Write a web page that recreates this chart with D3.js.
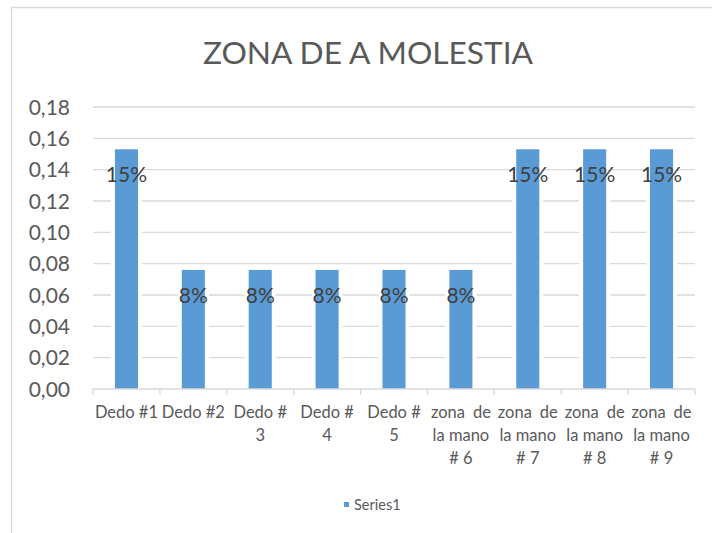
<!DOCTYPE html>
<html>
<head>
<meta charset="utf-8">
<script src="https://cdn.jsdelivr.net/npm/d3@7"></script>
<style>
  body { margin: 0; background: #fff; }
  svg { display: block; font-family: Lato, "Open Sans", sans-serif; }
  .grid line { stroke: #d9d9d9; stroke-width: 1.3; }
  .label { fill: #404040; }
  .tick-label { fill: #595959; }
</style>
</head>
<body>
<div id="chart"></div>
<script>
// *********** zona de molestia *************
var categories = [
  ["Dedo #1"], ["Dedo #2"], ["Dedo #", "3"], ["Dedo #", "4"], ["Dedo #", "5"],
  ["zona de", "la mano", "# 6"], ["zona de", "la mano", "# 7"],
  ["zona de", "la mano", "# 8"], ["zona de", "la mano", "# 9"]
];
var values = [0.153, 0.076, 0.076, 0.076, 0.076, 0.076, 0.153, 0.153, 0.153];
var yTicks = [0, 0.02, 0.04, 0.06, 0.08, 0.10, 0.12, 0.14, 0.16, 0.18];
var seriesName = "Series1";
var title = "ZONA DE A MOLESTIA";

var width = 712, height = 533;
var plotLeft = 93, plotRight = 695, plotTop = 107, plotBottom = 389;

var svg = d3.select("#chart").append("svg").attr("width", width).attr("height", height);

// outer chart border (cropped)
svg.append("path").attr("d", "M11.5," + height + "V7.5H" + width)
  .attr("fill", "none").attr("stroke", "#d9d9d9").attr("stroke-width", 1.3);

svg.append("text").attr("x", 368).attr("y", 64).attr("text-anchor", "middle")
  .attr("font-size", 31.7).attr("fill", "#595959").text(title);

var x = d3.scaleBand().domain(d3.range(categories.length)).range([plotLeft, plotRight]).padding(0);
var y = d3.scaleLinear().domain([0, 0.18]).range([plotBottom, plotTop]);
var barW = x.bandwidth() * 0.345;
var fmtY = function (d) { return d3.format(".2f")(d).replace(".", ","); };

// gridlines
svg.append("g").attr("class", "grid").selectAll("line").data(yTicks.slice(1)).enter()
  .append("line").attr("x1", plotLeft).attr("x2", plotRight)
  .attr("y1", function (d) { return y(d); }).attr("y2", function (d) { return y(d); });

// y labels
svg.append("g").selectAll("text").data(yTicks).enter().append("text")
  .attr("class", "tick-label").attr("x", 70).attr("y", function (d) { return y(d) + 7.5; })
  .attr("text-anchor", "end").attr("font-size", 21).text(fmtY);

// bars with white halo over gridlines
var bars = svg.append("g").selectAll("g").data(values).enter().append("g");
bars.append("rect").attr("fill", "#fff")
  .attr("x", function (d, i) { return x(i) + x.bandwidth() / 2 - barW / 2 - 4; })
  .attr("width", barW + 8)
  .attr("y", function (d) { return y(d); })
  .attr("height", function (d) { return plotBottom - y(d); });
bars.append("rect").attr("fill", "#5b9bd5")
  .attr("x", function (d, i) { return x(i) + x.bandwidth() / 2 - barW / 2; })
  .attr("width", barW)
  .attr("y", function (d) { return y(d); })
  .attr("height", function (d) { return plotBottom - y(d); });

// x axis
var xAxis = svg.append("g").attr("transform", "translate(0," + plotBottom + ")");
xAxis.append("line").attr("x1", plotLeft).attr("x2", plotRight).attr("stroke", "#d9d9d9").attr("stroke-width", 1.3);
xAxis.selectAll(".tk").data(d3.range(categories.length + 1)).enter().append("line")
  .attr("x1", function (i) { return plotLeft + i * x.step(); })
  .attr("x2", function (i) { return plotLeft + i * x.step(); })
  .attr("y1", 0).attr("y2", 6).attr("stroke", "#d9d9d9").attr("stroke-width", 1.3);

// data labels
svg.append("g").selectAll("text").data(values).enter().append("text")
  .attr("class", "label").attr("font-size", 21).attr("text-anchor", "middle")
  .attr("x", function (d, i) { return x(i) + x.bandwidth() / 2; })
  .attr("y", function (d) { return y(d) + 33; })
  .text(d3.format(".0%"));

// category labels, first line justified to the next line like Excel does
var catG = svg.append("g").selectAll("g").data(categories).enter().append("g")
  .attr("transform", function (d, i) { return "translate(" + (x(i) + x.bandwidth() / 2) + ",0)"; });
catG.each(function (lines) {
  var g = d3.select(this);
  var texts = lines.map(function (ln, j) {
    return g.append("text").attr("class", "tick-label").attr("font-size", 16.5)
      .attr("text-anchor", "middle").attr("y", 418 + j * 23).text(ln);
  });
  if (lines.length > 2 && lines[0].indexOf(" ") > 0) {
    var w = Math.max(60, texts[1].node().getComputedTextLength());
    var words = lines[0].split(" ");
    texts[0].remove();
    g.append("text").attr("class", "tick-label").attr("font-size", 16.5)
      .attr("x", -w / 2).attr("y", 418).text(words[0]);
    g.append("text").attr("class", "tick-label").attr("font-size", 16.5)
      .attr("x", w / 2).attr("y", 418).attr("text-anchor", "end").text(words[1]);
  }
});

// legend
var lg = svg.append("g").attr("transform", "translate(344,502)");
lg.append("rect").attr("width", 5).attr("height", 5).attr("fill", "#5b9bd5");
lg.append("text").attr("class", "tick-label").attr("x", 10).attr("y", 7.5)
  .attr("font-size", 14.5).text(seriesName);
</script>
</body>
</html>
